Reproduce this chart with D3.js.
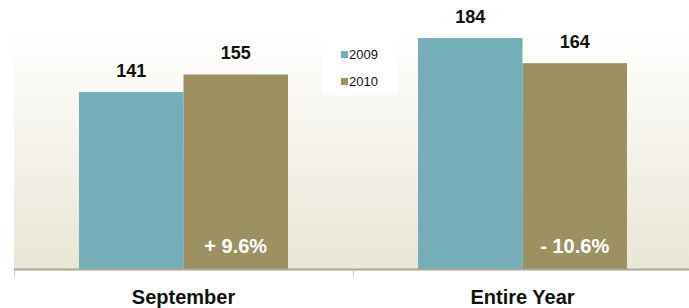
<!DOCTYPE html>
<html><head><meta charset="utf-8">
<script src="https://cdn.jsdelivr.net/npm/d3@7"></script>
<style>body{margin:0;background:#fff;}svg{display:block;font-family:"Liberation Sans",Arial,sans-serif;}</style>
</head><body>
<svg id="c" width="689" height="308"></svg>
<script>
const categories = ["September", "Entire Year"];
const series = ["2009", "2010"];
const values2009 = [141, 184];
const values2010 = [155, 164];
const changeLabels = ["+ 9.6%", "- 10.6%"];
const colors = ["#74AEB7", "#9C9161"];

(function () {
const svg = d3.select("#c");
const pLeft = 14, pRight = 692, pTop = 18, pBottom = 269;
const x0 = d3.scaleBand().domain(categories).range([pLeft, pRight]).padding(0);
const bw = x0.bandwidth();
const groupW = 209;
const x1 = d3.scaleBand().domain(series).range([(bw - groupW) / 2, (bw + groupW) / 2]).padding(0);
const y = d3.scaleLinear().domain([0, 200]).range([pBottom, pTop]);

const defs = svg.append("defs");
const grad = defs.append("linearGradient").attr("id", "bg").attr("x1", 0).attr("y1", 0).attr("x2", 0).attr("y2", 1);
grad.append("stop").attr("offset", "0%").attr("stop-color", "#ffffff");
grad.append("stop").attr("offset", "8%").attr("stop-color", "#fefefd");
grad.append("stop").attr("offset", "100%").attr("stop-color", "#E9E6D6");
svg.append("rect").attr("x", pLeft).attr("y", pTop).attr("width", pRight - pLeft).attr("height", pBottom - pTop).attr("fill", "url(#bg)");

const data = categories.map((c, i) => ({cat: c, vals: [values2009[i], values2010[i]], change: changeLabels[i]}));

const g = svg.selectAll("g.cat").data(data).join("g").attr("class", "cat")
  .attr("transform", d => `translate(${x0(d.cat)},0)`);

g.selectAll("rect").data(d => d.vals.map((v, j) => ({s: series[j], v, j}))).join("rect")
  .attr("x", d => x1(d.s)).attr("width", x1.bandwidth())
  .attr("y", d => y(d.v)).attr("height", d => y(0) - y(d.v))
  .attr("fill", d => colors[d.j]);

g.selectAll("text.val").data(d => d.vals.map((v, j) => ({s: series[j], v}))).join("text")
  .attr("class", "val")
  .attr("x", d => x1(d.s) + x1.bandwidth() / 2).attr("y", d => y(d.v) - 15)
  .attr("text-anchor", "middle").attr("font-size", 18).attr("font-weight", "bold").attr("fill", "#111")
  .text(d => d.v);

g.append("text")
  .attr("x", x1("2010") + x1.bandwidth() / 2).attr("y", 253)
  .attr("text-anchor", "middle").attr("font-size", 20).attr("font-weight", "bold").attr("fill", "#fff")
  .text(d => d.change);

// axis
svg.append("line").attr("x1", pLeft).attr("x2", pRight).attr("y1", pBottom + 0.5).attr("y2", pBottom + 0.5)
  .attr("stroke", "#A9A597").attr("stroke-width", 2);
const tickPos = categories.map(c => x0(c));
svg.selectAll("line.tk").data(tickPos).join("line").attr("class", "tk")
  .attr("x1", d => d + 0.5).attr("x2", d => d + 0.5).attr("y1", pBottom + 1).attr("y2", pBottom + 7)
  .attr("stroke", "#C8C8C8").attr("stroke-width", 1);

svg.selectAll("text.catlabel").data(categories).join("text").attr("class", "catlabel")
  .attr("x", d => x0(d) + bw / 2).attr("y", 304)
  .attr("text-anchor", "middle").attr("font-size", 20).attr("font-weight", "bold").attr("fill", "#111")
  .text(d => d);

// legend
const lg = svg.append("g");
lg.append("rect").attr("x", 322).attr("y", 37).attr("width", 76).attr("height", 58).attr("fill", "#fff");
series.forEach((s, j) => {
  const yy = 51 + j * 27;
  lg.append("rect").attr("x", 341).attr("y", yy).attr("width", 7).attr("height", 7).attr("fill", colors[j]);
  lg.append("text").attr("x", 349).attr("y", yy + 7.5).attr("font-size", 13).attr("fill", "#111").text(s);
});
})();
</script>
</body></html>
